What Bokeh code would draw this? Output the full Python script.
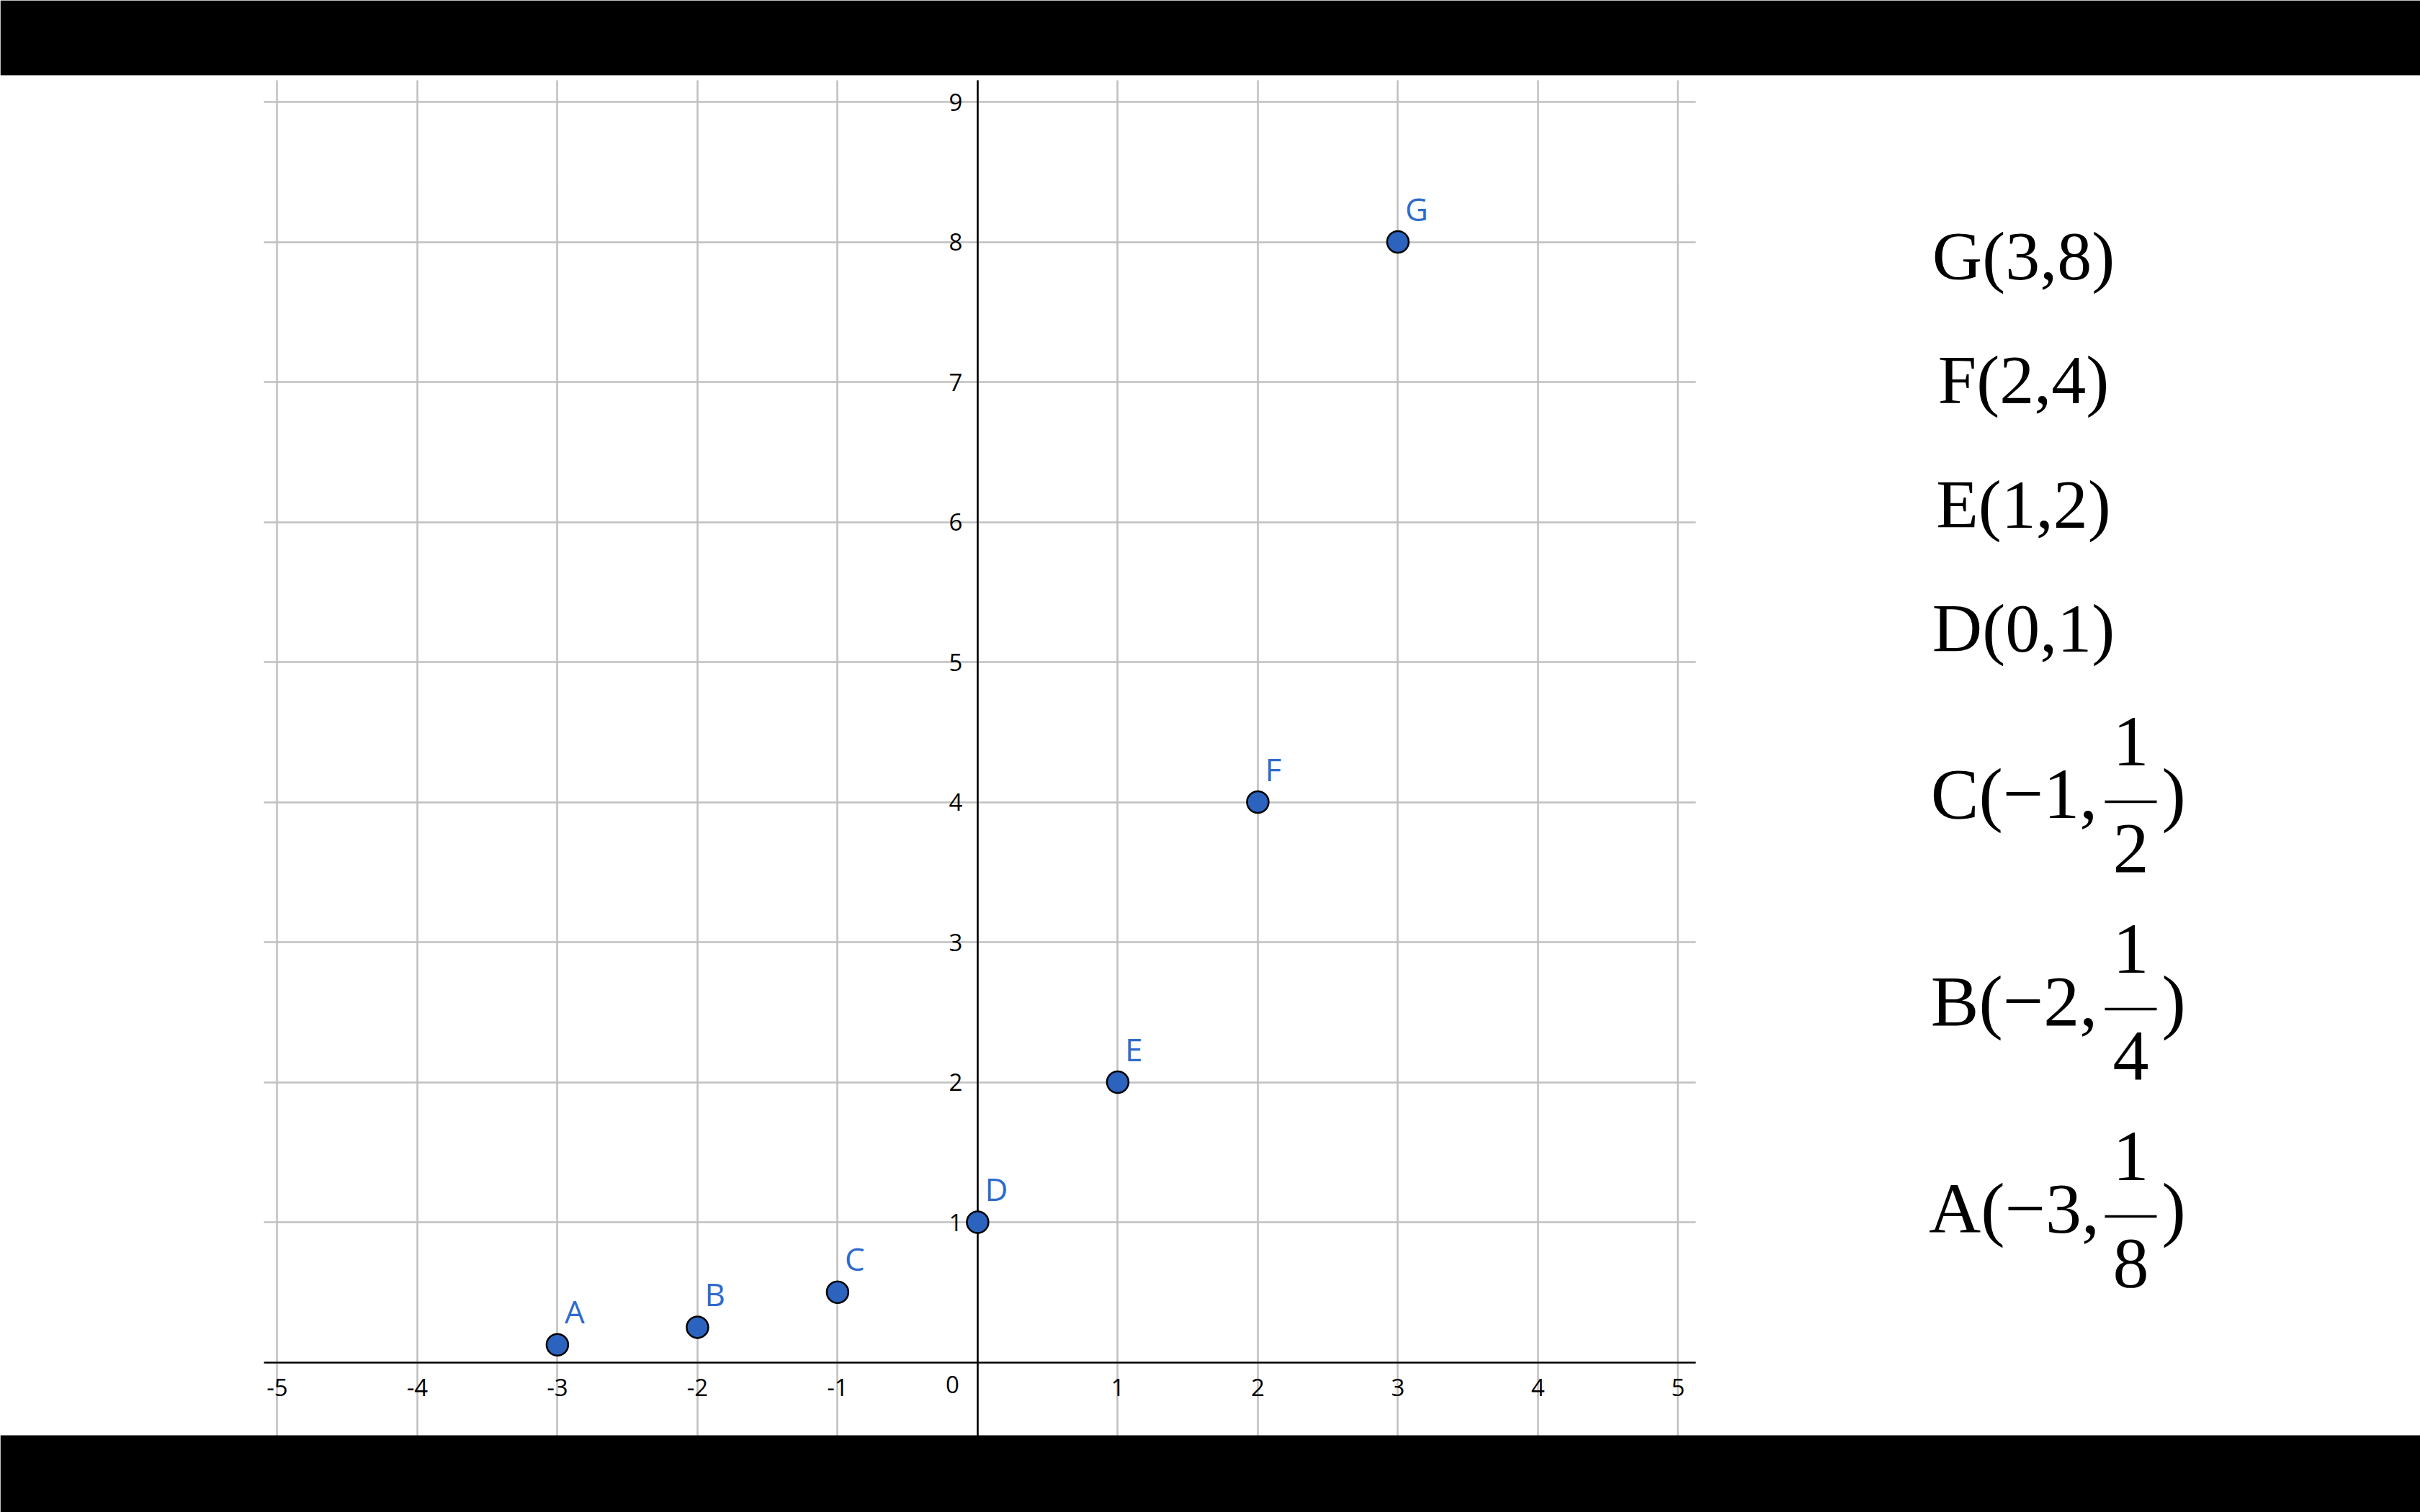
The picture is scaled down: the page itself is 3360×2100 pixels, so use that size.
from bokeh.plotting import figure
from bokeh.models import Range1d, FixedTicker, Grid, LinearAxis, BoxAnnotation
from bokeh.core.properties import value
from bokeh.embed import file_html
from bokeh.resources import INLINE

# ---------------- data ----------------
point_names = ["A", "B", "C", "D", "E", "F", "G"]
point_x = [-3, -2, -1, 0, 1, 2, 3]
point_y_num = [1, 1, 1, 1, 2, 4, 8]
point_y_den = [8, 4, 2, 1, 1, 1, 1]
point_y = [n / d for n, d in zip(point_y_num, point_y_den)]

x_ticks = [-5, -4, -3, -2, -1, 0, 1, 2, 3, 4, 5]
x_tick_labels = ["-5", "-4", "-3", "-2", "-1", "0", "1", "2", "3", "4", "5"]
y_ticks = [1, 2, 3, 4, 5, 6, 7, 8, 9]
y_tick_labels = ["1", "2", "3", "4", "5", "6", "7", "8", "9"]

# ---------------- layout (page pixels) ----------------
W, H = 3360, 2100
MARGIN = 0
UNIT = 194.5                     # pixels per unit on both axes
ORIGIN_X, ORIGIN_Y = 1356.9, 1891.5
GRID_LEFT, GRID_RIGHT, GRID_TOP = 366, 2354, 111
BAR_TOP_END, BAR_BOTTOM_START = 104, 1993
EM_SHIFT = 0.35                  # compensation for the renderer's baseline placement

BLUE = "#2b63be"
LABEL_BLUE = "#2f6bcb"
GRID = "#c0c0c0"
SERIF = value("Liberation Serif")
SANS = "Open Sans"

TICK_FS = 33
LABEL_FS = 44
MAIN_FS = 96
HEAD_FS = 100
FRAC_FS = 100


def to_x(px):
    return (px - ORIGIN_X) / UNIT


def to_y(py):
    return (ORIGIN_Y - py) / UNIT


def base(py, fs):
    """data y that puts a text baseline at page pixel py"""
    return to_y(py - EM_SHIFT * fs)


p = figure(width=W, height=H,
           x_range=Range1d(to_x(MARGIN), to_x(MARGIN + W)),
           y_range=Range1d(to_y(MARGIN + H), to_y(MARGIN)),
           x_axis_type=None, y_axis_type=None,
           output_backend="svg", toolbar_location=None,
           min_border=0, outline_line_color=None,
           background_fill_color="white", border_fill_color="white")

# grid
xgrid = Grid(dimension=0, ticker=FixedTicker(ticks=x_ticks),
             cross_bounds=(to_y(MARGIN + H), to_y(GRID_TOP)),
             grid_line_color=GRID, grid_line_width=2.5)
ygrid = Grid(dimension=1, ticker=FixedTicker(ticks=y_ticks),
             cross_bounds=(to_x(GRID_LEFT), to_x(GRID_RIGHT)),
             grid_line_color=GRID, grid_line_width=2.5)
p.add_layout(xgrid)
p.add_layout(ygrid)

# axes through the origin
ax_ticks = [t for t in x_ticks if t != 0]
xaxis = LinearAxis(ticker=FixedTicker(ticks=ax_ticks), fixed_location=0,
                   bounds=(to_x(GRID_LEFT), to_x(GRID_RIGHT)),
                   major_label_overrides={t: l for t, l in zip(x_ticks, x_tick_labels) if t != 0},
                   axis_line_color="black", axis_line_width=2.5,
                   major_tick_line_color=None, minor_tick_line_color=None,
                   major_tick_in=0, major_tick_out=0,
                   major_label_standoff=23,
                   major_label_text_font=SANS, major_label_text_font_size=f"{TICK_FS}px",
                   major_label_text_color="black")
yaxis = LinearAxis(ticker=FixedTicker(ticks=y_ticks), fixed_location=0,
                   bounds=(to_y(MARGIN + H), to_y(GRID_TOP)),
                   major_label_overrides=dict(zip(y_ticks, y_tick_labels)),
                   axis_line_color="black", axis_line_width=2.5,
                   major_tick_line_color=None, minor_tick_line_color=None,
                   major_tick_in=0, major_tick_out=0,
                   major_label_standoff=21,
                   major_label_text_font=SANS, major_label_text_font_size=f"{TICK_FS}px",
                   major_label_text_color="black")
p.add_layout(xaxis, "below")
p.add_layout(yaxis, "left")

# the "0" at the origin, left of the y axis
p.text(x=[0], y=[0], text=[x_tick_labels[x_ticks.index(0)]],
       x_offset=-35, y_offset=42.5 - EM_SHIFT * TICK_FS,
       text_font=value(SANS), text_font_size=f"{TICK_FS}px", text_color="black",
       text_align="center", text_baseline="alphabetic")

# points and their names
p.scatter(point_x, point_y, size=30, fill_color=BLUE, line_color="black",
          line_width=2.5, level="annotation")
p.text(point_x, point_y, text=point_names, x_offset=10, y_offset=-31 - EM_SHIFT * LABEL_FS,
       text_font=value(SANS), text_font_size=f"{LABEL_FS}px", text_color=LABEL_BLUE,
       text_align="left", text_baseline="alphabetic", level="annotation")

# ---------------- coordinate list on the right ----------------
def fmt(v):
    return f"\u2212{abs(v)}" if v < 0 else str(v)


order = sorted(range(len(point_names)), key=lambda i: -point_y[i])
row_baselines = [389, 561, 734, 906, 1137, 1425, 1713]
INT_CENTER = 2809
HEAD_CENTER = 2796
FRAC_CENTER = 2958
FRAC_HALF = 36
CLOSE_LEFT = 3001

int_x, int_y, int_t = [], [], []
head_x, head_y, head_t = [], [], []
frac_x, frac_y, frac_t = [], [], []
bar_x0, bar_x1, bar_y = [], [], []
close_x, close_y = [], []
for i, b in zip(order, row_baselines):
    name, x, n, d = point_names[i], point_x[i], point_y_num[i], point_y_den[i]
    if d == 1:
        int_x.append(to_x(INT_CENTER)); int_y.append(base(b, MAIN_FS))
        int_t.append(f"{name}({fmt(x)},{n})")
    else:
        head_x.append(to_x(HEAD_CENTER)); head_y.append(base(b, HEAD_FS))
        head_t.append(f"{name}({fmt(x)},")
        frac_x += [to_x(FRAC_CENTER)] * 2
        frac_y += [base(b - 72, FRAC_FS), base(b + 76, FRAC_FS)]
        frac_t += [str(n), str(d)]
        bar_x0.append(to_x(FRAC_CENTER - FRAC_HALF)); bar_x1.append(to_x(FRAC_CENTER + FRAC_HALF))
        bar_y.append(to_y(b - 24))
        close_x.append(to_x(CLOSE_LEFT)); close_y.append(base(b, HEAD_FS))

p.text(int_x, int_y, text=int_t, text_font=SERIF, text_font_size=f"{MAIN_FS}px",
       text_color="black", text_align="center", text_baseline="alphabetic")
p.text(head_x, head_y, text=head_t, text_font=SERIF, text_font_size=f"{HEAD_FS}px",
       text_color="black", text_align="center", text_baseline="alphabetic")
p.text(frac_x, frac_y, text=frac_t, text_font=SERIF, text_font_size=f"{FRAC_FS}px",
       text_color="black", text_align="center", text_baseline="alphabetic")
p.segment(bar_x0, bar_y, bar_x1, bar_y, line_color="black", line_width=3.5)
p.text(close_x, close_y, text=[")"] * len(close_x), text_font=SERIF, text_font_size=f"{HEAD_FS}px",
       text_color="black", text_align="left", text_baseline="alphabetic")

# letterbox bars
p.add_layout(BoxAnnotation(bottom=to_y(BAR_TOP_END), fill_color="black", fill_alpha=1,
                           line_alpha=0, level="overlay"))
p.add_layout(BoxAnnotation(top=to_y(BAR_BOTTOM_START), fill_color="black", fill_alpha=1,
                           line_alpha=0, level="overlay"))

open("out.html", "w").write(file_html(p, INLINE))
